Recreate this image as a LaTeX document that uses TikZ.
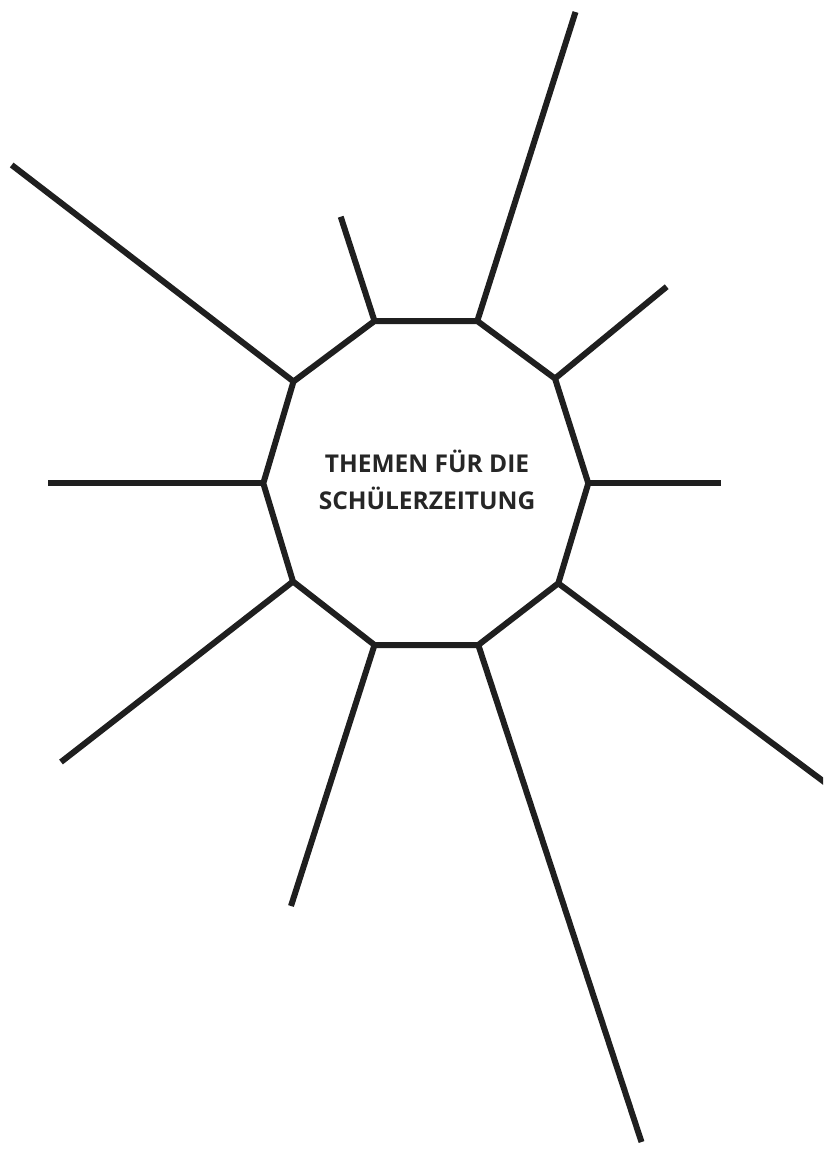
\documentclass[tikz,border=0pt]{standalone}
\usepackage{fontspec}
\setmainfont{Open Sans}
\begin{document}
\begin{tikzpicture}[x={(1pt,0pt)},y={(0pt,-1pt)},
  edge/.style={line width=6pt,color=black!88,line join=miter,line cap=butt},
  title/.style={align=center,font=\fontsize{24.5}{37}\selectfont\bfseries,text=black!85,inner sep=0pt}]
\useasboundingbox (0,0) rectangle (823,1149);
% decagon vertices
\coordinate (v0) at (588.3,483.3);
\coordinate (v1) at (555,378.5);
\coordinate (v2) at (477.3,321);
\coordinate (v3) at (374.5,321);
\coordinate (v4) at (293.5,381.5);
\coordinate (v5) at (263.3,483.3);
\coordinate (v6) at (293,581.5);
\coordinate (v7) at (374.5,645);
\coordinate (v8) at (478.3,645);
\coordinate (v9) at (558.3,583.3);
% ray ends
\coordinate (e0) at (721,483.3);
\coordinate (e1) at (666.7,286.7);
\coordinate (e2) at (575.5,12);
\coordinate (e3) at (340.7,216.7);
\coordinate (e4) at (11.7,165);
\coordinate (e5) at (48,483.3);
\coordinate (e6) at (61,762);
\coordinate (e7) at (291,906);
\coordinate (e8) at (641.5,1142);
\coordinate (e9) at (835,790);
\begin{scope}
\clip (0,0) rectangle (823,1149);
\draw[edge] (v0) -- (v1) -- (v2) -- (v3) -- (v4) -- (v5) -- (v6) -- (v7) -- (v8) -- (v9) -- cycle;
\foreach \i in {0,...,9}{\draw[edge] (v\i) -- (e\i);}
\end{scope}
\node[title] (t) at (427,480) {THEMEN FÜR DIE\\SCHÜLERZEITUNG};
\end{tikzpicture}
\end{document}
